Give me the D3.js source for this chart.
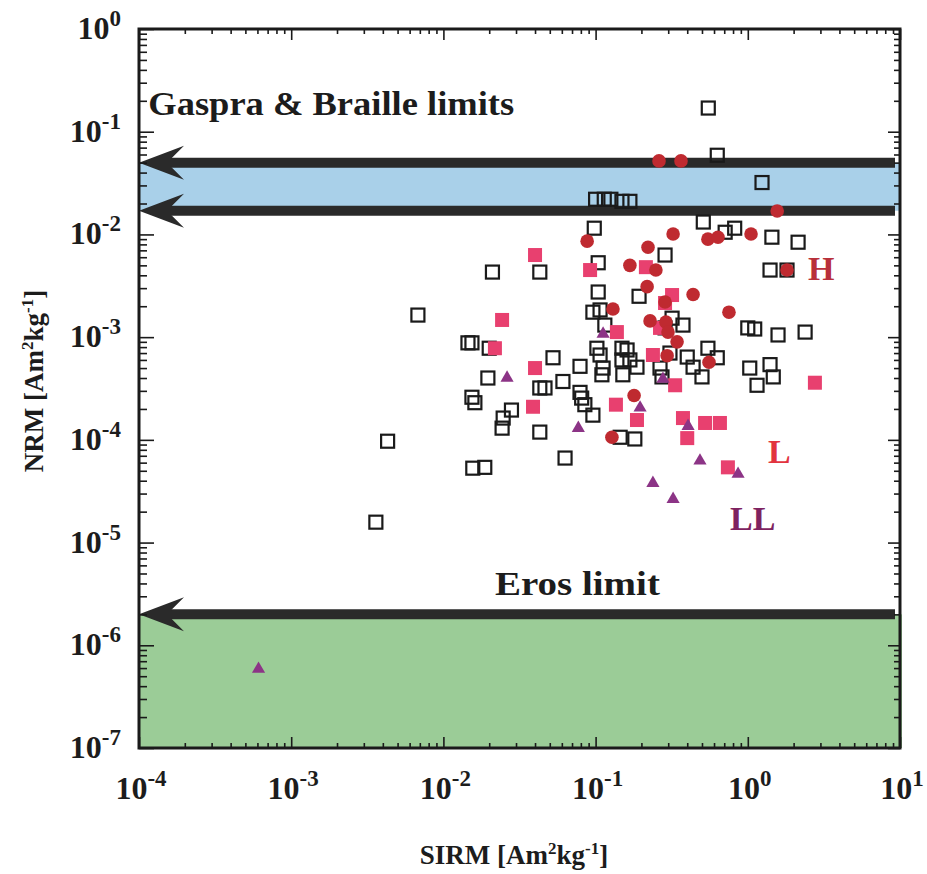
<!DOCTYPE html>
<html>
<head>
<meta charset="utf-8">
<script src="https://cdn.jsdelivr.net/npm/d3@7"></script>
<style>
  body { margin: 0; background: #fff; }
  text { font-family: "Liberation Serif", "Times New Roman", serif; font-weight: bold; fill: #1c1c1c; }
</style>
</head>
<body>
<svg id="chart" width="927" height="874"></svg>
<script>
// SIRM [Am2/kg], NRM [Am2/kg]
var otherSamples = [
  [0.55, 0.17], [0.63, 0.059], [1.24, 0.032],
  [0.10, 0.022], [0.114, 0.022], [0.126, 0.022], [0.149, 0.021], [0.168, 0.021],
  [0.098, 0.0115], [0.51, 0.0132], [0.71, 0.0105], [0.82, 0.0115], [1.44, 0.0094], [2.14, 0.0084],
  [0.286, 0.0063], [0.104, 0.0053], [0.021, 0.0043], [0.043, 0.0043], [1.40, 0.0045], [1.81, 0.0045],
  [0.104, 0.00275], [0.193, 0.0025], [0.096, 0.00175], [0.107, 0.00184], [0.115, 0.00131],
  [0.0068, 0.00164], [0.318, 0.00153], [0.375, 0.00131], [0.286, 0.00123],
  [1.00, 0.00123], [1.11, 0.0012], [1.58, 0.00105], [2.38, 0.00112],
  [0.0145, 0.00088], [0.0154, 0.00088], [0.020, 0.00078], [0.0525, 0.00063],
  [0.102, 0.00078], [0.107, 0.00067], [0.149, 0.00078], [0.161, 0.00075], [0.149, 0.0006], [0.168, 0.0006],
  [0.079, 0.00052], [0.112, 0.0005], [0.110, 0.00043], [0.151, 0.00043], [0.187, 0.00051],
  [0.265, 0.0005], [0.273, 0.00041], [0.308, 0.0007], [0.40, 0.00064], [0.437, 0.00051],
  [0.50, 0.00041], [0.547, 0.00078], [0.63, 0.00063],
  [1.03, 0.0005], [1.40, 0.00054], [1.47, 0.00041], [1.15, 0.00034],
  [0.0196, 0.0004], [0.061, 0.00037], [0.043, 0.00032], [0.0465, 0.00032],
  [0.079, 0.00029], [0.081, 0.000255], [0.085, 0.00022], [0.096, 0.000174],
  [0.0154, 0.00026], [0.0161, 0.00023], [0.028, 0.000195], [0.0247, 0.000163], [0.0243, 0.00013], [0.043, 0.000119],
  [0.0043, 0.000097], [0.0156, 0.000053], [0.0187, 0.000054], [0.063, 0.0000665],
  [0.145, 0.000106], [0.181, 0.000102], [0.0036, 0.0000158]
];
var hChondrites = [
  [0.261, 0.052], [0.364, 0.052], [1.56, 0.0169], [0.088, 0.0086], [0.323, 0.0101],
  [0.547, 0.009], [0.637, 0.0094], [1.05, 0.0101], [0.221, 0.0075], [0.168, 0.005],
  [0.249, 0.0045], [1.81, 0.0045], [0.218, 0.0031], [0.437, 0.0026], [0.286, 0.0022],
  [0.130, 0.00188], [0.752, 0.00175], [0.228, 0.00144], [0.290, 0.0014], [0.299, 0.00112],
  [0.343, 0.0009], [0.295, 0.00066], [0.556, 0.00057], [0.179, 0.00027], [0.128, 0.000106]
];
var lChondrites = [
  [0.040, 0.0063], [0.092, 0.0045], [0.214, 0.0048], [0.318, 0.00257], [0.286, 0.00215],
  [0.0243, 0.00147], [0.138, 0.00112], [0.265, 0.00123], [0.0218, 0.00078], [0.238, 0.00067],
  [0.040, 0.0005], [0.333, 0.00034], [2.76, 0.00036], [0.0388, 0.00021], [0.136, 0.00022],
  [0.187, 0.000156], [0.375, 0.000163], [0.40, 0.000104], [0.524, 0.000146], [0.656, 0.000146],
  [0.74, 0.000054]
];
var llChondrites = [
  [0.112, 0.0011], [0.0262, 0.00041], [0.277, 0.0004], [0.196, 0.00021], [0.077, 0.000133],
  [0.405, 0.000139], [0.485, 0.000064], [0.863, 0.0000475], [0.238, 0.0000388], [0.323, 0.0000271],
  [0.00061, 6.0e-7]
];
var gaspraBrailleLimits = [0.05, 0.017];
var erosLimit = 2e-6;
var xDomain = [1e-4, 10];
var yDomain = [1e-7, 1];

var svg = d3.select('#chart');
var pLeft = 139, pRight = 900, pTop = 29, pBottom = 748;

var x = d3.scaleLog().domain(xDomain).range([pLeft, pRight]);
var y = d3.scaleLog().domain(yDomain).range([pBottom, pTop]);

function isMajor (v) { var l = Math.log10(v); return Math.abs(l - Math.round(l)) < 1e-6 }

// shaded limit regions
svg.append('rect').attr('x', pLeft).attr('y', y(gaspraBrailleLimits[0]))
  .attr('width', pRight - pLeft + 1).attr('height', y(gaspraBrailleLimits[1]) - y(gaspraBrailleLimits[0]))
  .attr('fill', '#a9d0e9');
svg.append('rect').attr('x', pLeft).attr('y', y(erosLimit))
  .attr('width', pRight - pLeft + 2).attr('height', pBottom - y(erosLimit))
  .attr('fill', '#9bcc97');

// limit lines with arrow heads
var limits = gaspraBrailleLimits.concat([erosLimit]);
var arrows = svg.selectAll('.limit').data(limits).join('g').attr('class', 'limit')
  .attr('transform', d => 'translate(' + pLeft + ',' + y(d) + ')');
arrows.append('line').attr('x1', 30).attr('x2', pRight - pLeft - 5)
  .attr('stroke', '#2a2a2a').attr('stroke-width', 10);
arrows.append('path').attr('d', 'M0,0 L45,-17 L32,-4 L32,4 L45,17 Z').attr('fill', '#2a2a2a');

// points
svg.append('g').selectAll('rect').data(otherSamples).join('rect')
  .attr('x', d => x(d[0]) - 6.5).attr('y', d => y(d[1]) - 6.5)
  .attr('width', 13).attr('height', 13)
  .attr('fill', 'none').attr('stroke', '#1a1a1a').attr('stroke-width', 2.2);

svg.append('g').selectAll('rect').data(lChondrites).join('rect')
  .attr('x', d => x(d[0]) - 7).attr('y', d => y(d[1]) - 7)
  .attr('width', 14).attr('height', 14).attr('fill', '#e8406f');

svg.append('g').selectAll('circle').data(hChondrites).join('circle')
  .attr('cx', d => x(d[0])).attr('cy', d => y(d[1])).attr('r', 6.8)
  .attr('fill', '#bf2a30');

var tri = d3.symbol().type(d3.symbolTriangle).size(75);
svg.append('g').selectAll('path').data(llChondrites).join('path')
  .attr('transform', d => 'translate(' + x(d[0]) + ',' + (y(d[1]) + 1) + ')')
  .attr('d', tri).attr('fill', '#8c3486');

// axes, ticks inward on all sides
var xt = x.ticks(), yt = y.ticks();
function styleAxis (g, major, minor, attr) {
  g.select('.domain').remove();
  g.selectAll('.tick line').attr(attr, d => isMajor(d) ? major : minor)
    .attr('stroke', '#1a1a1a').attr('stroke-width', 1.6);
}
svg.append('g').attr('transform', 'translate(0,' + pBottom + ')')
  .call(d3.axisBottom(x).tickValues(xt).tickFormat(''))
  .call(g => styleAxis(g, -11, -5, 'y2'));
svg.append('g').attr('transform', 'translate(0,' + pTop + ')')
  .call(d3.axisTop(x).tickValues(xt).tickFormat(''))
  .call(g => styleAxis(g, 11, 5, 'y2'));
svg.append('g').attr('transform', 'translate(' + pLeft + ',0)')
  .call(d3.axisLeft(y).tickValues(yt).tickFormat(''))
  .call(g => styleAxis(g, 15, 8, 'x2'));
svg.append('g').attr('transform', 'translate(' + pRight + ',0)')
  .call(d3.axisRight(y).tickValues(yt).tickFormat(''))
  .call(g => styleAxis(g, -12, -6, 'x2'));

svg.append('rect').attr('x', pLeft).attr('y', pTop).attr('width', pRight - pLeft).attr('height', pBottom - pTop)
  .attr('fill', 'none').attr('stroke', '#1a1a1a').attr('stroke-width', 3);

// tick labels 10^n
function powLabel (sel) {
  sel.each(function (d) {
    var t = d3.select(this);
    t.append('tspan').attr('font-size', 32).text('10');
    t.append('tspan').attr('font-size', 23).attr('dy', -13).text(Math.round(Math.log10(d)));
  });
}
svg.selectAll('.xlab').data(xt.filter(isMajor)).join('text').attr('class', 'xlab')
  .attr('x', d => x(d) + 2).attr('y', 799).attr('text-anchor', 'middle').call(powLabel);
svg.selectAll('.ylab').data(yt.filter(isMajor)).join('text').attr('class', 'ylab')
  .attr('x', 121).attr('y', d => y(d) + 10).attr('text-anchor', 'end').call(powLabel);

// axis titles
var xTitle = svg.append('text').attr('x', 514).attr('y', 864).attr('text-anchor', 'middle').attr('font-size', 27);
xTitle.append('tspan').text('SIRM [Am');
xTitle.append('tspan').attr('font-size', 17).attr('dy', -10).text('2');
xTitle.append('tspan').attr('dy', 10).text('kg');
xTitle.append('tspan').attr('font-size', 17).attr('dy', -10).text('-1');
xTitle.append('tspan').attr('dy', 10).text(']');

var yTitle = svg.append('text').attr('transform', 'translate(43,381) rotate(-90)')
  .attr('text-anchor', 'middle').attr('font-size', 27);
yTitle.append('tspan').text('NRM [Am');
yTitle.append('tspan').attr('font-size', 17).attr('dy', -10).text('2');
yTitle.append('tspan').attr('dy', 10).text('kg');
yTitle.append('tspan').attr('font-size', 17).attr('dy', -10).text('-1');
yTitle.append('tspan').attr('dy', 10).text(']');

// annotations
svg.append('text').attr('x', x(1.15e-4)).attr('y', y(0.146)).attr('font-size', 34)
  .attr('textLength', 366).attr('lengthAdjust', 'spacingAndGlyphs').text('Gaspra & Braille limits');
svg.append('text').attr('x', x(0.0218)).attr('y', y(3.08e-6)).attr('font-size', 34)
  .attr('textLength', 165).attr('lengthAdjust', 'spacingAndGlyphs').text('Eros limit');
svg.append('text').attr('x', x(2.49)).attr('y', y(0.0036)).attr('font-size', 34)
  .style('fill', '#b8303a').text('H');
svg.append('text').attr('x', x(1.36)).attr('y', y(5.9e-5)).attr('font-size', 34)
  .style('fill', '#e2343f').text('L');
svg.append('text').attr('x', x(0.764)).attr('y', y(1.32e-5)).attr('font-size', 34)
  .style('fill', '#7e2260').text('LL');
</script>
</body>
</html>
